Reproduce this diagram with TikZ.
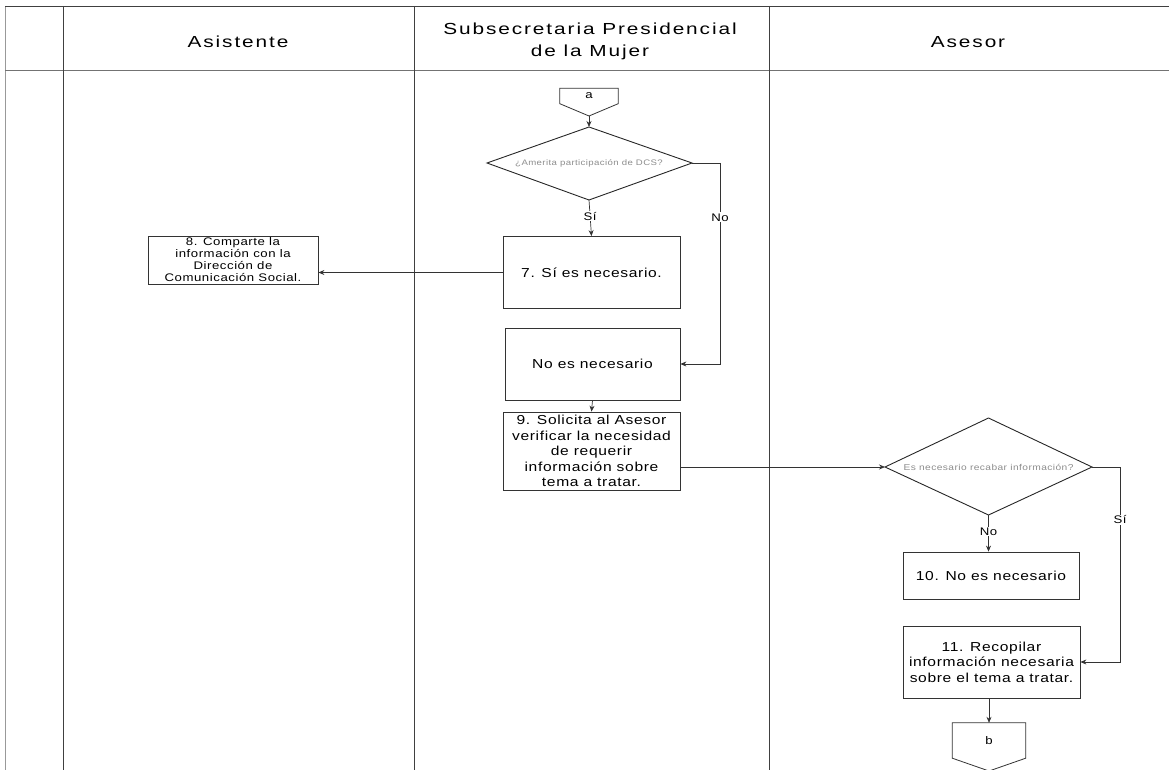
\documentclass[tikz,border=0pt]{standalone}
\usepackage{fontspec}
\setmainfont{Liberation Sans}
\newfontfamily\wide{Liberation Sans}[FakeStretch=1.2,LetterSpace=5]
\newfontfamily\headwide{Liberation Sans}[FakeStretch=1.3,LetterSpace=12]
\usetikzlibrary{arrows.meta}
\tikzset{
  lane/.style={draw=black!75,line width=0.8pt},
  box/.style={draw=black!80,line width=0.8pt,rectangle,align=center,font=\wide\fontsize{13}{15.5}\selectfont,inner sep=1pt},
  smallbox/.style={box,font=\wide\fontsize{11}{12}\selectfont},
  dectext/.style={inner sep=0pt,font=\wide\fontsize{8}{9}\selectfont,text=black!45},
  decline/.style={draw=black!85,line width=0.9pt},
  offp/.style={draw=none,rectangle,inner sep=0pt,font=\wide\fontsize{11}{13}\selectfont},
  offline/.style={draw=black!80,line width=0.8pt},
  plain/.style={draw=black!80,line width=0.7pt},
  flow/.style={plain,-{Stealth[length=6pt,width=5pt]}},
  lbl/.style={font=\wide\fontsize{11}{13}\selectfont,fill=white,inner sep=1pt},
  head/.style={font=\headwide\fontsize{16}{22}\selectfont,align=center}
}
\begin{document}
\begin{tikzpicture}[x=1pt,y=-1pt]
\useasboundingbox (0,0) rectangle (1169,770);
% lanes
\draw[draw=black!40,line width=0.8pt] (5,6) -- (5,770);
\draw[lane] (5,6) -- (1169,6);
\draw[lane,draw=black!55] (5,70) -- (1169,70);
\draw[lane] (63,6) -- (63,770);
\draw[lane] (414,6) -- (414,770);
\draw[lane] (769,6) -- (769,770);
\node[head] (h1) at (238,42) {Asistente};
\node[head] (h2) at (590,41) {Subsecretaria Presidencial\\de la Mujer};
\node[head] (h3) at (968,42) {Asesor};
% off-page connector a
\node[offp,minimum width=58pt,minimum height=15pt] (a) at (589,96) {a};
\coordinate (ap) at (589,116);
\draw[offline] (a.north west) -- (a.north east) -- (a.south east) -- (ap) -- (a.south west) -- cycle;
% decision 1
\node[dectext] (d1) at (589,163) {¿Amerita participación de DCS?};
\coordinate (d1n) at (589,127);
\coordinate (d1s) at (589,200);
\coordinate (d1w) at (487,163);
\coordinate (d1e) at (692,163);
\draw[decline] (d1n) -- (d1e) -- (d1s) -- (d1w) -- cycle;
% boxes
\node[box,minimum width=177pt,minimum height=72pt] (n7) at (591.5,272.5) {7. Sí es necesario.};
\node[smallbox,minimum width=170pt,minimum height=48pt] (n8) at (233,260) {8. Comparte la\\información con la\\Dirección de\\Comunicación Social.};
\node[box,minimum width=175pt,minimum height=72pt] (nn) at (592.5,364) {No es necesario};
\node[box,minimum width=177pt,minimum height=78pt] (n9) at (591.5,451) {9. Solicita al Asesor\\verificar la necesidad\\de requerir\\información sobre\\tema a tratar.};
% decision 2
\node[dectext,font=\wide\fontsize{8.5}{10}\selectfont] (d2) at (988.5,467) {Es necesario recabar información?};
\coordinate (d2n) at (988.5,418);
\coordinate (d2s) at (988.5,515);
\coordinate (d2w) at (885,467);
\coordinate (d2e) at (1092,467);
\draw[decline] (d2n) -- (d2e) -- (d2s) -- (d2w) -- cycle;
\node[box,minimum width=176pt,minimum height=47pt] (n10) at (991,575.5) {10. No es necesario};
\node[box,minimum width=177pt,minimum height=72pt] (n11) at (991.5,662) {11. Recopilar\\información necesaria\\sobre el tema a tratar.};
% off-page connector b
\node[offp,minimum width=73pt,minimum height=35pt] (b) at (989,740.5) {b};
\coordinate (bp) at (989,771);
\draw[offline] (b.north west) -- (b.north east) -- (b.south east) -- (bp) -- (b.south west) -- cycle;
\coordinate (c1) at (720,163);
\coordinate (c2) at (1120,467);
% connectors
\draw[flow] (ap) -- (d1n);
\draw[flow] (d1s) -- node[lbl,pos=0.45]{Sí} (n7.north);
\draw[plain] (d1e) -- (c1);
\draw[flow] (c1) -- node[lbl,pos=0.27]{No} (c1 |- nn.east) -- (nn.east);
\draw[flow] (n7.west) -- (n7.west -| n8.east);
\draw[flow] (nn.south) -- (n9.north);
\draw[flow] (n9.east |- d2w) -- (d2w);
\draw[flow] (d2s) -- node[lbl,pos=0.45]{No} (d2s |- n10.north);
\draw[plain] (d2e) -- (c2);
\draw[flow] (c2) -- node[lbl,pos=0.27]{Sí} (c2 |- n11.east) -- (n11.east);
\draw[flow] (n11.south -| b.north) -- (b.north);
\end{tikzpicture}
\end{document}
